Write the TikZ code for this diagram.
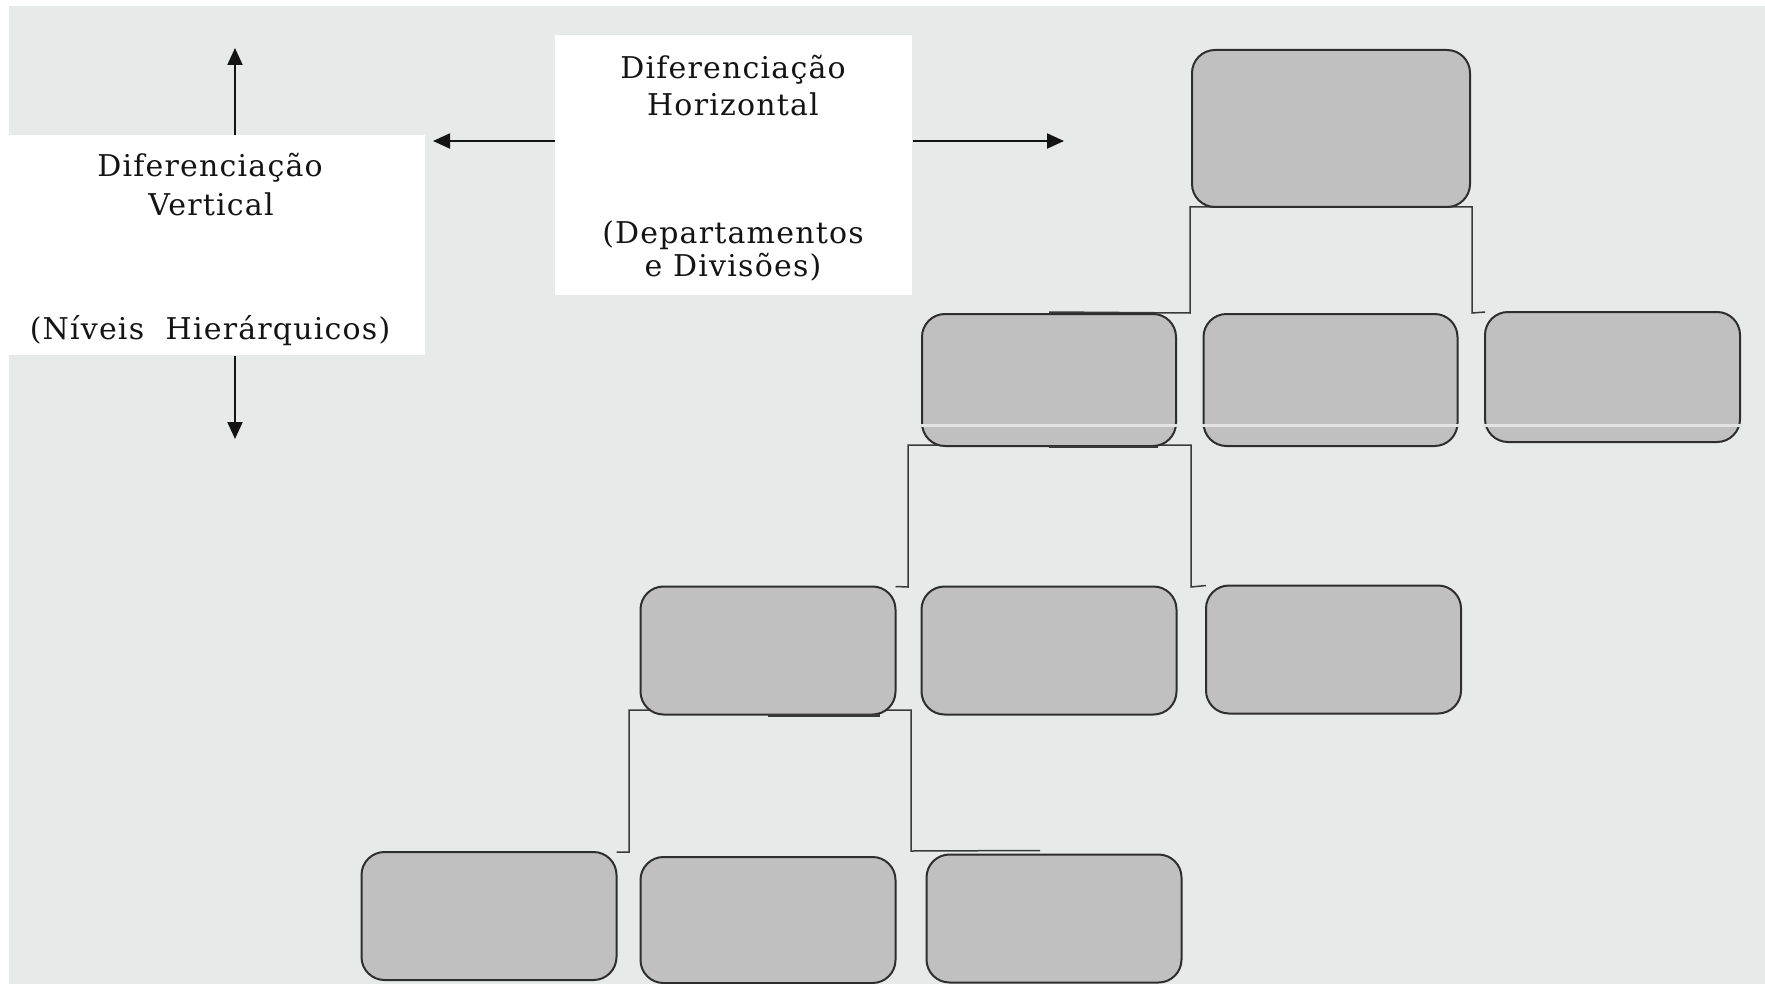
\documentclass[tikz,border=0pt]{standalone}
\usepackage{fontspec}
\setmainfont{DejaVu Serif}
\usetikzlibrary{arrows.meta}
\definecolor{bggray}{HTML}{E6EAE9}
\definecolor{boxfill}{HTML}{C0C0C0}
\definecolor{boxline}{HTML}{2E2E2E}
\definecolor{linkcol}{HTML}{3A3A3A}
\definecolor{inkcol}{HTML}{141414}
\definecolor{stripecol}{HTML}{E2E4E4}

\begin{document}
\begin{tikzpicture}[x=0.5pt,y=-0.5pt,
  unit/.style={draw=boxline, line width=1pt, fill=boxfill, rounded corners=11.5pt,
    minimum width=126.5pt, minimum height=63pt, inner sep=0pt},
  link/.style={draw=linkcol, line width=0.75pt},
  stripe/.style={draw=stripecol, line width=1.5pt},
  label/.style={font=\fontsize{15}{18}\selectfont\addfontfeatures{LetterSpace=4},
    text=inkcol, anchor=base, inner sep=0pt},
  panel/.style={fill=white, draw=none, inner sep=0pt, anchor=north west},
  axis/.style={draw=inkcol, line width=1pt, -{Triangle[length=8.5pt,width=7.5pt]}},
]
\useasboundingbox (0,0) rectangle (1765,984);
\fill[white] (0,0) rectangle (1765,984);
\fill[bggray] (9,6) rectangle (1765,984);

% text panels
\node[panel, minimum width=208pt, minimum height=110pt] (vpanel) at (9,135) {};
\node[panel, minimum width=178.5pt, minimum height=130pt] (hpanel) at (555,35) {};

\node[label] (vt1) at (210,177) {Diferenciação};
\node[label] (vt2) at (211,216) {Vertical};
\node[label] (vt3) at (210,339) {(Níveis\ \ Hierárquicos)};

\node[label] (ht1) at (733,79) {Diferenciação};
\node[label] (ht2) at (733,116) {Horizontal};
\node[label] (ht3) at (733,243) {(Departamentos};
\node[label] (ht4) at (733,277) {e Divisões)};

% axis arrows
\coordinate (upT) at (235,48);
\coordinate (dnT) at (235,439);
\coordinate (lfT) at (433,141);
\coordinate (rtT) at (1064,141);
\draw[axis] (vpanel.north -| upT) -- (upT);
\draw[axis] (vpanel.south -| dnT) -- (dnT);
\draw[axis] (hpanel.west |- lfT) -- (lfT);
\draw[axis] (hpanel.east |- rtT) -- (rtT);

% organisation chart box positions
\path
  (1331,128.5) coordinate (pT)
  (1049,380)   coordinate (pA)
  (1330.5,380) coordinate (pB)
  (1612.5,377) coordinate (pC)
  (768,650.5)  coordinate (pD)
  (1049,650.5) coordinate (pE)
  (1333.5,649.5) coordinate (pF)
  (489,916)    coordinate (pG)
  (768,920)    coordinate (pH)
  (1054,918.5) coordinate (pI);

% invisible placeholders so connectors can be drawn behind the boxes
\begin{scope}[unit/.append style={draw=none, fill=none}]
  \node[unit, minimum width=138pt, minimum height=77.5pt] (T) at (pT) {};
  \node[unit, minimum width=126pt, minimum height=65pt] (A) at (pA) {};
  \node[unit, minimum width=126pt, minimum height=65pt] (B) at (pB) {};
  \node[unit, minimum height=64pt] (C) at (pC) {};
  \node[unit] (D) at (pD) {};
  \node[unit] (E) at (pE) {};
  \node[unit] (F) at (pF) {};
  \node[unit] (G) at (pG) {};
  \node[unit, minimum height=62pt] (H) at (pH) {};
  \node[unit] (I) at (pI) {};
\end{scope}

% connectors
\draw[link] ([yshift=1pt]A.north) -- (1190,313) -- (1190,207) -- (1472,207)
  -- (1472,313) -- (C.north west);
\draw[link] (D.north east) -- (908,587) -- (908,445) -- (1191,445)
  -- (1191,587) -- (F.north west);
\draw[link] (G.north east) -- (629,852) -- (629,710) -- (911,710)
  -- (911,851) -- ([xshift=-7pt,yshift=2pt]I.north);

% boxes
\foreach \n in {T,A,B,C,D,E,F,G,H,I}{
  \draw[draw=boxline, line width=1pt, fill=boxfill, rounded corners=11.5pt]
    (\n.south west) rectangle (\n.north east);
}

% light band across the second row
\coordinate (stripeY) at (0,425);
\foreach \n in {A,B,C}{
  \draw[stripe] ([xshift=-1pt]\n.west |- stripeY) -- ([xshift=1pt]\n.east |- stripeY);
}

% doubled stretch where a connector leaves its parent
\draw[link, line width=1.1pt] ([yshift=-0.5pt]A.south) -- ([yshift=-0.5pt,xshift=-9pt]A.south east);
\draw[link, line width=1.1pt] ([yshift=-0.5pt]D.south) -- ([yshift=-0.5pt,xshift=-8pt]D.south east);
\end{tikzpicture}
\end{document}
